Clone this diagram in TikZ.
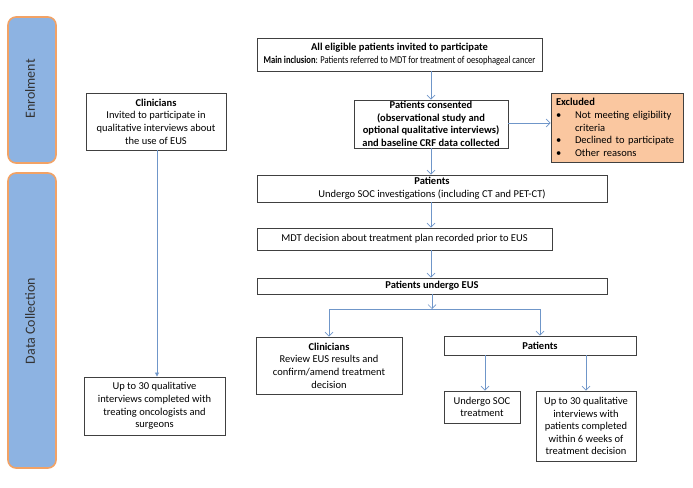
\documentclass[tikz,border=0pt]{standalone}
\usepackage{fontspec}
\setmainfont{Carlito}
\usetikzlibrary{arrows.meta}
\definecolor{pillfill}{HTML}{8DB3E2}
\definecolor{pillborder}{HTML}{F2A265}
\definecolor{exfill}{HTML}{FAC7A0}
\definecolor{boxborder}{HTML}{404040}
\definecolor{arrcol}{HTML}{6F96C9}
\tikzset{
  x=1pt, y=-1pt,
  box/.style={draw=boxborder, line width=0.9pt, fill=white, align=center, inner xsep=2pt, inner ysep=1pt,
    font=\fontsize{10.5}{12.6}\selectfont},
  pill/.style={draw=pillborder, line width=1.6pt, fill=pillfill, rounded corners=8pt},
  pilltext/.style={rotate=90, font=\fontsize{14}{16}\selectfont, text=black!80},
  arr/.style={draw=arrcol, line width=0.8pt, -{Straight Barb[length=4pt,width=8pt,line width=0.7pt]}},
  arrtri/.style={draw=arrcol, line width=0.8pt, -{Triangle[length=4pt,width=4pt]}},
  plain/.style={draw=arrcol, line width=0.8pt},
}
\begin{document}
\begin{tikzpicture}
\useasboundingbox (0,0) rectangle (693,487);
% side pills
\draw[pill] (8,17) rectangle (56,163);
\node[pilltext] (penr) at (30,89) {Enrolment};
\draw[pill] (8,173) rectangle (56,468);
\node[pilltext] (pdat) at (30,321) {Data Collection};
% boxes
\node[box, minimum width=285pt, minimum height=33pt] (top) at (399.5,54.5)
  {\textbf{All eligible patients invited to participate}\\
   \scalebox{0.815}[1]{\textbf{Main inclusion}: Patients referred to MDT for treatment of oesophageal cancer}};
\node[box, minimum width=154pt, minimum height=48pt] (cons) at (431,124)
  {\textbf{Patients consented}\\ \textbf{(observational study and}\\ \textbf{optional qualitative interviews)}\\ \textbf{and baseline CRF data collected}};
\node[box, fill=exfill, align=left, text width=122pt, inner xsep=5pt, minimum height=69pt] (excl) at (617,127.5)
  {\textbf{Excluded}\\
   \makebox[19pt][l]{\textbullet}Not meeting eligibility\\
   \hspace*{19pt}criteria\\
   \makebox[19pt][l]{\textbullet}Declined to participate\\
   \makebox[19pt][l]{\textbullet}Other reasons};
\node[box, minimum width=140pt, minimum height=57pt] (clin1) at (156,121.5)
  {\textbf{Clinicians}\\ Invited to participate in\\ qualitative interviews about\\ the use of EUS};
\node[box, minimum width=141pt, minimum height=58pt] (clin2) at (154.5,406)
  {Up to 30 qualitative\\ interviews completed with\\ treating oncologists and\\ surgeons};
\node[box, minimum width=350pt, minimum height=27pt] (soc) at (432,188.5)
  {\textbf{Patients}\\ Undergo SOC investigations (including CT and PET-CT)};
\node[box, minimum width=295pt, minimum height=22pt] (mdt) at (404.5,239)
  {MDT decision about treatment plan recorded prior to EUS};
\node[box, minimum width=350pt, minimum height=16pt] (eus) at (432,286)
  {\textbf{Patients undergo EUS}};
\node[box, minimum width=146pt, minimum height=57pt] (clinR) at (329,365.5)
  {\textbf{Clinicians}\\ Review EUS results and\\ confirm/amend treatment\\ decision};
\node[box, minimum width=192pt, minimum height=19pt] (patR) at (540,345.5)
  {\textbf{Patients}};
\node[box, minimum width=76pt, minimum height=32pt] (socT) at (482,407)
  {Undergo SOC\\ treatment};
\node[box, minimum width=100pt, minimum height=70pt] (up30) at (586,426)
  {Up to 30 qualitative\\ interviews with\\ patients completed\\ within 6 weeks of\\ treatment decision};
% connectors
\draw[arr] (cons.north |- top.south) -- (cons.north);
\draw[arr] (cons.east |- 0,123) -- (excl.west |- 0,123);
\draw[arr] (cons.south) -- (cons.south |- soc.north);
\draw[arr] (cons.south |- soc.south) -- (cons.south |- mdt.north);
\draw[arr] (cons.south |- mdt.south) -- (cons.south |- eus.north);
\coordinate (br) at (432,309);
\coordinate (brL) at (329,309);
\coordinate (brR) at (540,309);
\draw[arr] (eus.south -| br) -- (br);
\draw[plain] (brL) -- (brR);
\draw[arr] (brL) -- (clinR.north);
\draw[arr] (brR) -- (patR.north);
\draw[arr] (patR.south -| 485,0) -- (socT.north -| 485,0);
\draw[arr] (patR.south -| up30.north) -- (up30.north);
\draw[arrtri] (clin1.south -| 157,0) -- (clin2.north -| 157,0);
\end{tikzpicture}
\end{document}
